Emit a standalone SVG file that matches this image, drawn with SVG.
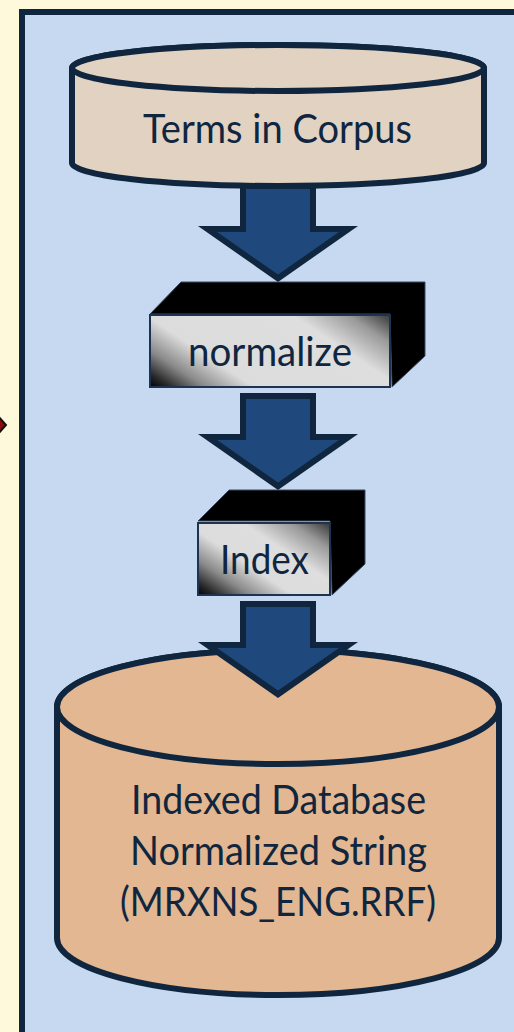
<svg xmlns="http://www.w3.org/2000/svg" width="514" height="1032" viewBox="0 0 514 1032">
<defs>
<linearGradient id="g1" gradientUnits="userSpaceOnUse" x1="150" y1="387" x2="256" y2="227">
<stop offset="0" stop-color="#000"/><stop offset="0.06" stop-color="#2a2a2a"/><stop offset="0.16" stop-color="#8a8a8a"/><stop offset="0.3" stop-color="#dcdcdc"/><stop offset="0.72" stop-color="#dedede"/><stop offset="0.88" stop-color="#9a9a9a"/><stop offset="1" stop-color="#3a3a3a"/>
</linearGradient>
<linearGradient id="g2" gradientUnits="userSpaceOnUse" x1="198" y1="595" x2="271" y2="485">
<stop offset="0" stop-color="#000"/><stop offset="0.08" stop-color="#2a2a2a"/><stop offset="0.22" stop-color="#8a8a8a"/><stop offset="0.4" stop-color="#dcdcdc"/><stop offset="0.64" stop-color="#dedede"/><stop offset="0.84" stop-color="#9a9a9a"/><stop offset="1" stop-color="#3a3a3a"/>
</linearGradient>
</defs>
<style>
.ln{stroke:#10263f;stroke-width:6;stroke-linejoin:miter;stroke-miterlimit:10}
.ar{fill:#1f497d}
.t{font-family:Lato,"Liberation Sans",sans-serif;font-size:40px;fill:#10263f;text-anchor:start}
.blk{fill:#000;stroke:#3a4a60;stroke-width:1}
.fr{stroke:#1d3350;stroke-width:2}
</style>
<rect width="514" height="1032" fill="#fff9dc"/>
<polygon id="cut-diamond" points="-11,425 -2,416 6,425 -2,434" fill="#8b0a0a" stroke="#111" stroke-width="2"/>
<rect id="panel" class="ln" x="22" y="12" width="520" height="1040" fill="#c6d9f1"/>
<g id="connectors">
<path id="arrow1" class="ln ar" d="M243,186V229H207.500L278,278.300L348.500,229H313V186Z"/>
<path id="arrow2" class="ln ar" d="M243,396V437H207.500L278,486.300L348.500,437H313V396Z"/>
</g>
<g id="node-terms">
<path class="ln" fill="#e2d2c2" d="M72,68A206,23 0 0 1 484,68V163A206,23 0 0 1 72,163Z"/>
<ellipse class="ln" cx="278" cy="68" rx="206" ry="23" fill="#e2d2c2"/>
<text class="t" x="143" y="143" textLength="269" lengthAdjust="spacingAndGlyphs">Terms in Corpus</text>
</g>
<g id="node-normalize">
<polygon class="blk" points="150,314 181,282 425,282 425,356 392,387 390,314"/>
<rect class="fr" x="150" y="315" width="240" height="72" fill="url(#g1)"/>
<text class="t" x="188" y="366" textLength="164" lengthAdjust="spacingAndGlyphs">normalize</text>
</g>
<g id="node-index">
<polygon class="blk" points="198,521 229,490 365,490 365,564 332,595 330,521"/>
<rect class="fr" x="198" y="523" width="132" height="72" fill="url(#g2)"/>
<text class="t" x="220" y="574" textLength="89" lengthAdjust="spacingAndGlyphs">Index</text>
</g>
<g id="node-database">
<path class="ln" fill="#e2b791" d="M57,707A221,57 0 0 1 499,707V938A221,57 0 0 1 57,938Z"/>
<ellipse class="ln" cx="278" cy="707" rx="221" ry="57" fill="#e2b791"/>
<text class="t" x="131" y="814" textLength="295" lengthAdjust="spacingAndGlyphs">Indexed Database</text>
<text class="t" x="130" y="865" textLength="297" lengthAdjust="spacingAndGlyphs">Normalized String</text>
<text class="t" x="120" y="916" textLength="316" lengthAdjust="spacingAndGlyphs">(MRXNS_ENG.RRF)</text>
</g>
<path id="arrow3" class="ln ar" d="M243,604V645H207.500L278,694.300L348.500,645H313V604Z"/>
</svg>
